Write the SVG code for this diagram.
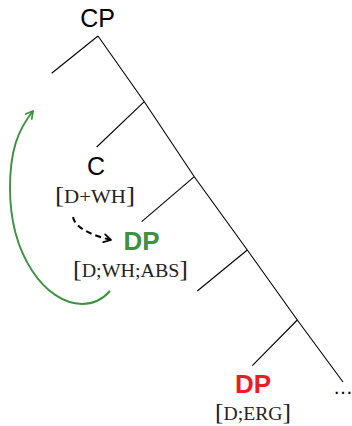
<svg xmlns="http://www.w3.org/2000/svg" width="352" height="426" viewBox="0 0 352 426">
<defs>
<style>
.edge{fill:none;stroke:#000;stroke-width:1.1}
.lbl{font-family:"Liberation Sans","DejaVu Sans",sans-serif;font-size:25px;text-anchor:middle;fill:#000}
.bold{font-weight:bold;font-size:26px}
.feat{font-family:"Liberation Serif","DejaVu Serif",serif;text-anchor:middle;fill:#222}
.br{font-size:24px}
.sc{font-size:18.5px}
</style>
<marker id="openG" viewBox="0 0 10 10" refX="8" refY="5" markerWidth="10" markerHeight="10" orient="auto" markerUnits="userSpaceOnUse">
<path d="M1,1 L8,5 L1,9" fill="none" stroke="#3d9140" stroke-width="1.8" stroke-linecap="round" stroke-linejoin="round"/>
</marker>
<marker id="openK" viewBox="0 0 10 10" refX="8" refY="5" markerWidth="10" markerHeight="10" orient="auto" markerUnits="userSpaceOnUse">
<path d="M1,1 L8,5 L1,9" fill="none" stroke="#000" stroke-width="1.8" stroke-linecap="round" stroke-linejoin="round"/>
</marker>
</defs>
<rect width="352" height="426" fill="#fff"/>
<g id="connectors">
<polyline class="edge" points="98,36 144.3,101.7 194.3,176.7 247.3,250 297.3,320 343,382"/>
<line class="edge" x1="98" y1="36" x2="51.7" y2="73.3"/>
<line class="edge" x1="144.3" y1="101.7" x2="96.7" y2="147"/>
<line class="edge" x1="194.3" y1="176.7" x2="141.7" y2="221.7"/>
<line class="edge" x1="247.3" y1="250" x2="197.3" y2="291"/>
<line class="edge" x1="297.3" y1="320" x2="252.3" y2="365.7"/>
<path d="M73,217 C75,229 95,236 111,240" fill="none" stroke="#000" stroke-width="2" stroke-dasharray="6,4" marker-end="url(#openK)"/>
<path d="M110,291 C102,300 92,304 82,304 C45,303 10,255 10,188 C10,150 18,130 33,111" fill="none" stroke="#3d9140" stroke-width="1.9" marker-end="url(#openG)"/>
</g>
<g id="CP"><text class="lbl" x="97.5" y="27">CP</text></g>
<g id="C">
<text class="lbl" x="96" y="175">C</text>
<text class="feat" x="95" y="203" textLength="80" lengthAdjust="spacingAndGlyphs"><tspan class="br">[</tspan><tspan class="sc">D+WH</tspan><tspan class="br">]</tspan></text>
</g>
<g id="DP-abs">
<text class="lbl bold" x="141.5" y="250" style="fill:#3d9140">DP</text>
<text class="feat" x="130.5" y="277" textLength="115" lengthAdjust="spacingAndGlyphs"><tspan class="br">[</tspan><tspan class="sc">D;WH;ABS</tspan><tspan class="br">]</tspan></text>
</g>
<g id="DP-erg">
<text class="lbl bold" x="253" y="393" style="fill:#ed1c24">DP</text>
<text class="feat" x="253" y="420" textLength="76" lengthAdjust="spacingAndGlyphs"><tspan class="br">[</tspan><tspan class="sc">D;ERG</tspan><tspan class="br">]</tspan></text>
</g>
<g id="ellipsis"><text class="lbl" x="343" y="394" style="font-size:20px">…</text></g>
</svg>
